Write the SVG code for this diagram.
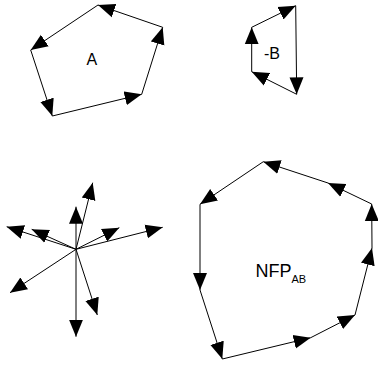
<svg xmlns="http://www.w3.org/2000/svg" width="378" height="365" viewBox="0 0 378 365">
  <style>
    .e { stroke: #000; stroke-width: 1; fill: none; marker-end: url(#ah); }
    .lbl { font-family: "Liberation Sans", Arial, sans-serif; fill: #000; }
  </style>
  <defs>
    <marker id="ah" markerUnits="userSpaceOnUse" markerWidth="19" markerHeight="15" refX="17" refY="7" orient="auto" viewBox="0 0 19 14">
      <path d="M0,0 L17,7 L0,14 Z" fill="#000"/>
    </marker>
  </defs>
  <rect width="378" height="365" fill="#fff"/>

  <g id="polyA">
    <g id="connectors-A">
      <line class="e" x1="98" y1="5" x2="30.7" y2="50"/>
      <line class="e" x1="30.7" y1="50" x2="52.3" y2="116"/>
      <line class="e" x1="52.3" y1="116" x2="141.7" y2="94.3"/>
      <line class="e" x1="141.7" y1="94.3" x2="162.7" y2="27.3"/>
      <line class="e" x1="162.7" y1="27.3" x2="98" y2="5"/>
    </g>
    <text class="lbl" x="86.5" y="65" font-size="16">A</text>
  </g>

  <g id="polyB">
    <g id="connectors-B">
      <line class="e" x1="295.7" y1="5.7" x2="296.7" y2="94.3"/>
      <line class="e" x1="296.7" y1="94.3" x2="251.7" y2="71.7"/>
      <line class="e" x1="251.7" y1="71.7" x2="251.7" y2="27.3"/>
      <line class="e" x1="251.7" y1="27.3" x2="295.7" y2="5.7"/>
    </g>
    <text class="lbl" x="264" y="59" font-size="16">-B</text>
  </g>

  <g id="star">
    <g id="connectors-star">
      <line class="e" x1="76" y1="249.3" x2="92.7" y2="182.7"/>
      <line class="e" x1="76" y1="249.3" x2="76" y2="206.7"/>
      <line class="e" x1="76" y1="249.3" x2="6.7" y2="226.7"/>
      <line class="e" x1="76" y1="249.3" x2="31.7" y2="229.3"/>
      <line class="e" x1="76" y1="249.3" x2="119.3" y2="227.7"/>
      <line class="e" x1="76" y1="249.3" x2="162.7" y2="227.3"/>
      <line class="e" x1="76" y1="249.3" x2="10" y2="292.7"/>
      <line class="e" x1="76" y1="249.3" x2="97.3" y2="315"/>
      <line class="e" x1="76" y1="249.3" x2="76" y2="336.7"/>
    </g>
  </g>

  <g id="nfp">
    <g id="connectors-nfp">
      <line class="e" x1="263.3" y1="161.7" x2="200" y2="204.3"/>
      <line class="e" x1="200" y1="204.3" x2="200" y2="290"/>
      <line class="e" x1="200" y1="290" x2="222.3" y2="359"/>
      <line class="e" x1="222.3" y1="359" x2="310.7" y2="337.7"/>
      <line class="e" x1="310.7" y1="337.7" x2="355" y2="315"/>
      <line class="e" x1="355" y1="315" x2="372" y2="248"/>
      <line class="e" x1="372" y1="248" x2="371.7" y2="204"/>
      <line class="e" x1="371.7" y1="204" x2="328" y2="183"/>
      <line class="e" x1="328" y1="183" x2="263.3" y2="161.7"/>
    </g>
    <text class="lbl" x="255.5" y="277" font-size="18">NFP<tspan font-size="11" dy="6">AB</tspan></text>
  </g>
</svg>
